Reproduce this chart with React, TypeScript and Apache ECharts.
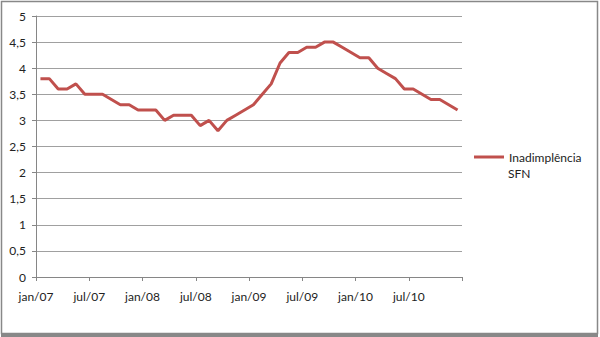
import React, { useEffect, useRef } from "react";
import * as echarts from "echarts";

const seriesName = "Inadimplência";
const legendSecondLine = "SFN";
const months = ["jan", "fev", "mar", "abr", "mai", "jun", "jul", "ago", "set", "out", "nov", "dez"];
const years = ["07", "08", "09", "10"];
const categories: string[] = years.flatMap((y) => months.map((m) => `${m}/${y}`));
const values = [
  3.8, 3.8, 3.6, 3.6, 3.7, 3.5, 3.5, 3.5, 3.4, 3.3, 3.3, 3.2,
  3.2, 3.2, 3.0, 3.1, 3.1, 3.1, 2.9, 3.0, 2.8, 3.0, 3.1, 3.2,
  3.3, 3.5, 3.7, 4.1, 4.3, 4.3, 4.4, 4.4, 4.5, 4.5, 4.4, 4.3,
  4.2, 4.2, 4.0, 3.9, 3.8, 3.6, 3.6, 3.5, 3.4, 3.4, 3.3, 3.2,
];
const yTicks = [0, 0.5, 1, 1.5, 2, 2.5, 3, 3.5, 4, 4.5, 5];

export default function App() {
  const ref = useRef<HTMLDivElement>(null);
  useEffect(() => {
    if (!ref.current) return;
    const chart = echarts.init(ref.current, undefined, { renderer: "svg" });
    const font = "Lato, 'Open Sans', sans-serif";
    chart.setOption({
      animation: false,
      backgroundColor: "#ffffff",
      textStyle: { fontFamily: font },
      grid: { left: 36, right: 138, top: 16, bottom: 60 },
      xAxis: {
        type: "value",
        min: 0,
        max: categories.length,
        interval: 6,
        axisLine: { show: true, lineStyle: { color: "#868686", width: 1 } },
        axisTick: { show: true, length: 4, lineStyle: { color: "#868686" } },
        splitLine: { show: false },
        axisLabel: {
          color: "#222",
          fontSize: 12,
          fontFamily: font,
          margin: 13,
          formatter: (v: number) => (v < categories.length ? categories[Math.round(v)] : ""),
        },
      },
      yAxis: {
        type: "value",
        min: yTicks[0],
        max: yTicks[yTicks.length - 1],
        interval: 0.5,
        axisLine: { show: true, lineStyle: { color: "#868686", width: 1 } },
        axisTick: { show: true, length: 4, lineStyle: { color: "#868686" } },
        splitLine: { show: true, lineStyle: { color: "#a0a0a0", width: 1 } },
        axisLabel: {
          color: "#222",
          fontSize: 12,
          fontFamily: font,
          margin: 10,
          formatter: (v: number) => String(v).replace(".", ","),
        },
      },
      legend: {
        show: true,
        left: 474,
        top: 151,
        padding: 0,
        orient: "vertical",
        itemWidth: 30,
        itemHeight: 3,
        icon: "rect",
        textStyle: { color: "#222", fontSize: 12, fontFamily: font },
        data: [{ name: seriesName, itemStyle: { color: "#c0504d" } }],
      },
      graphic: [
        {
          type: "text",
          left: 508,
          top: 167,
          style: { text: legendSecondLine, fill: "#222", fontSize: 12, fontFamily: font },
          silent: true,
        },
        {
          type: "rect",
          shape: { x: 1.5, y: 1.5, width: 596, height: 332 },
          style: { fill: "none", stroke: "#888888", lineWidth: 1.5 },
          silent: true,
        },
        {
          type: "rect",
          shape: { x: 1, y: 333, width: 597, height: 4 },
          style: { fill: "#888888" },
          silent: true,
        },
      ],
      series: [
        {
          name: seriesName,
          type: "line",
          data: values.map((v, i) => [i + 0.5, v]),
          showSymbol: false,
          symbol: "none",
          lineStyle: { color: "#c0504d", width: 3 },
          itemStyle: { color: "#c0504d" },
        },
      ],
    });
    return () => chart.dispose();
  }, []);
  return <div ref={ref} style={{ width: 600, height: 337, position: "absolute", left: 0, top: 0 }} />;
}
